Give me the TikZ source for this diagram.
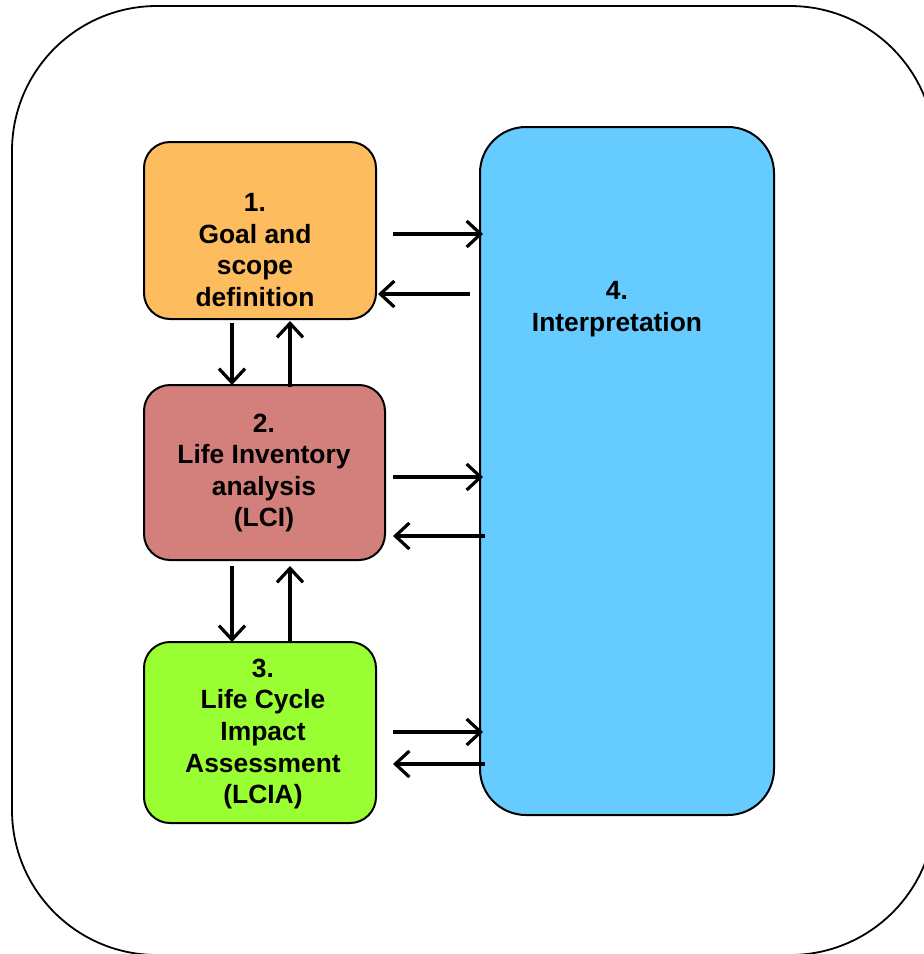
\documentclass[tikz,border=0pt]{standalone}
\usepackage{fontspec}
\setmainfont{Liberation Sans}
\usepackage{tikz}
\usetikzlibrary{positioning, arrows.meta, calc}
\definecolor{lcaGoal}{HTML}{FDBC5E}
\definecolor{lcaInv}{HTML}{D37F7B}
\definecolor{lcaImpact}{HTML}{99FF33}
\definecolor{lcaInterp}{HTML}{66CCFF}
\tikzset{
  stage/.style={rectangle, rounded corners=13pt, draw=black, line width=1pt,
    inner sep=0pt, outer sep=0pt},
  stagetext/.style={align=center, font=\bfseries\fontsize{13.2}{15.8}\selectfont,
    inner sep=0pt},
  flow/.style={-{Straight Barb[length=7pt, width=13pt, line width=1.6pt]},
    line width=1.6pt, black},
}

\begin{document}
\begin{tikzpicture}[x=0.5pt, y=-0.5pt]
    \useasboundingbox (0,0) rectangle (923,954);
    % outer frame
    \draw[line width=0.9pt, rounded corners=72.5pt] (12,6) rectangle (935,955);
    % stages
    \node[stage, fill=lcaGoal, minimum width=116pt, minimum height=88.5pt]
      (goal) at (260,230.5) {};
    \node[stage, fill=lcaInv, minimum width=120.5pt, minimum height=87.5pt]
      (lci) at (264.5,472.5) {};
    \node[stage, fill=lcaImpact, minimum width=116pt, minimum height=90.5pt]
      (lcia) at (260,732.5) {};
    \node[stage, fill=lcaInterp, rounded corners=23pt, minimum width=147pt,
          minimum height=344pt]
      (interp) at (627,471) {};
    % stage texts
    \node[stagetext] (goaltxt) at (255,250) {1.\\ Goal and\\ scope\\ definition};
    \node[stagetext] (lcitxt) at (264,473) {2.\\ Life Inventory\\ analysis\\ (LCI)};
    \node[stagetext] (lciatxt) at (263,734)
      {3.\\ Life Cycle\\ Impact\\ Assessment\\ (LCIA)};
    \node[stagetext] (interptxt) at (617,309) {4.\\ Interpretation};
    % arrows to and from interpretation
    \draw[flow] ([shift={(17,0)}]goal.east |- 0,234) -- ([shift={(3,0)}]interp.west |- 0,234);
    \draw[flow] ([shift={(-10,0)}]interp.west |- 0,294) -- ([shift={(2,0)}]goal.east |- 0,294);
    \draw[flow] ([shift={(8,0)}]lci.east |- 0,477) -- ([shift={(3,0)}]interp.west |- 0,477);
    \draw[flow] ([shift={(5,0)}]interp.west |- 0,536) -- ([shift={(8,0)}]lci.east |- 0,536);
    \draw[flow] ([shift={(17,0)}]lcia.east |- 0,732) -- ([shift={(3,0)}]interp.west |- 0,732);
    \draw[flow] ([shift={(5,0)}]interp.west |- 0,764) -- ([shift={(17,0)}]lcia.east |- 0,764);
    % arrows between stages
    \draw[flow] ([shift={(0,4)}]goal.south -| 232,0) -- (lci.north -| 232,0);
    \draw[flow] ([shift={(0,2)}]lci.north -| 290,0) -- ([shift={(0,2)}]goal.south -| 290,0);
    \draw[flow] ([shift={(0,6)}]lci.south -| 232,0) -- (lcia.north -| 232,0);
    \draw[flow] (lcia.north -| 290,0) -- ([shift={(0,6)}]lci.south -| 290,0);
\end{tikzpicture}
\end{document}
